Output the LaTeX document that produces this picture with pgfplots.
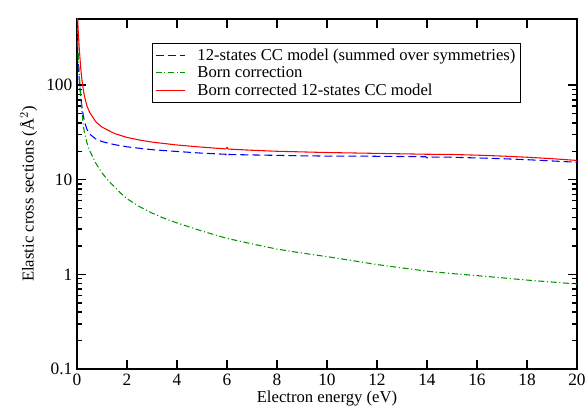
\documentclass[border=0pt]{standalone}
\usepackage{pgfplots}
\pgfplotsset{compat=1.18}
\usepackage{fontspec}
\setmainfont{Liberation Serif}
\definecolor{cblue}{RGB}{0,0,255}
\definecolor{cgreen}{RGB}{0,150,0}
\definecolor{cred}{RGB}{255,0,0}
\begin{document}
\begin{tikzpicture}
\useasboundingbox (-57.75pt,-27.75pt) rectangle (382.5pt,276.75pt);
\begin{axis}[
  scale only axis,
  width=375pt, height=262.5pt,
  ymode=log,
  xmin=0, xmax=20, ymin=0.1, ymax=500,
  xtick={0,2,...,20},
  ytick={0.1,1,10,100},
  yticklabels={0.1,1,10,100},
  log ticks with fixed point,
  font=\fontsize{12.5}{14}\selectfont,
  tick label style={font=\fontsize{13}{14}\selectfont},
  /pgf/number format/assume math mode=true,
  tick align=inside,
  major tick length=7pt,
  minor tick length=4pt,
  axis line style={line width=1.1pt},
  every tick/.style={line width=1.1pt, black},
  minor x tick num=0,
  xlabel={Electron energy (eV)},
  ylabel={Elastic cross sections (Å$^{2}$)},
  xlabel style={at={(axis description cs:0.5,-0.083)}, anchor=center},
  ylabel style={at={(axis description cs:-0.07,0.5)}, anchor=south},
  legend style={at={(axis description cs:0.15,0.931)}, anchor=north west,
    draw=black, line width=0.6pt, font=\fontsize{12.5}{13}\selectfont,
    row sep=-1pt, inner sep=2pt,
    /tikz/every odd column/.append style={column sep=7pt}},
  legend cell align=left,
  legend image code/.code={\draw[#1] (0pt,0pt) -- (22pt,0pt);},
]
\addplot[cblue, line width=0.8pt, dash pattern=on 6pt off 3pt] coordinates {
(0.01,300) (0.03,220) (0.05,170) (0.08,125) (0.1,105) (0.15,75) (0.2,58) (0.25,48)
(0.3,41) (0.4,34) (0.5,30.5) (0.75,27) (1,25.3) (1.5,23.5) (2,22.3) (2.5,21.5)
(3,20.8) (4,19.9) (5,19.1) (5.95,18.6) (6.0,17.6) (6.05,18.5) (7,18.3) (8,18.1)
(9,17.9) (10,17.8) (11,17.8) (12,17.7) (13,17.6) (13.95,17.5) (14.0,17.0) (14.05,17.4)
(15,17.3) (16,17.0) (17,16.7) (18,16.3) (19,15.8) (20,15.3)
};
\addlegendentry{12-states CC model (summed over symmetries)}
\addplot[cgreen, line width=0.8pt, dash pattern=on 4.5pt off 2pt on 0.8pt off 2pt] coordinates {
(0.01,400) (0.03,280) (0.05,210) (0.08,150) (0.1,120) (0.15,80) (0.2,52) (0.25,38)
(0.3,31) (0.4,24.5) (0.5,20.5) (0.75,15) (1,11.8) (1.25,9.8) (1.5,8.4) (1.75,7.2)
(2,6.3) (2.5,5.2) (3,4.45) (3.5,3.9) (4,3.5) (5,2.87) (6,2.4) (7,2.1) (8,1.85)
(9,1.68) (10,1.54) (11,1.4) (12,1.27) (13,1.17) (14,1.08) (15,1.02) (16,0.97)
(17,0.92) (18,0.87) (19,0.83) (20,0.79)
};
\addlegendentry{Born correction}
\addplot[cred, line width=0.8pt] coordinates {
(0.01,600) (0.03,480) (0.05,370) (0.08,270) (0.1,225) (0.15,150) (0.2,112) (0.25,90)
(0.3,76) (0.4,60) (0.5,52) (0.75,41) (1,36) (1.5,30.8) (2,28) (2.5,26.3) (3,25)
(4,23.3) (5,22.1) (5.95,21.2) (6.0,22.0) (6.05,21.1) (7,20.5) (8,20.0) (9,19.7)
(10,19.4) (11,19.2) (12,19.0) (13,18.8) (14,18.6) (15,18.5) (16,18.2) (17,17.8)
(18,17.3) (19,16.7) (20,16.0)
};
\addlegendentry{Born corrected 12-states CC model}
\end{axis}
\end{tikzpicture}
\end{document}
